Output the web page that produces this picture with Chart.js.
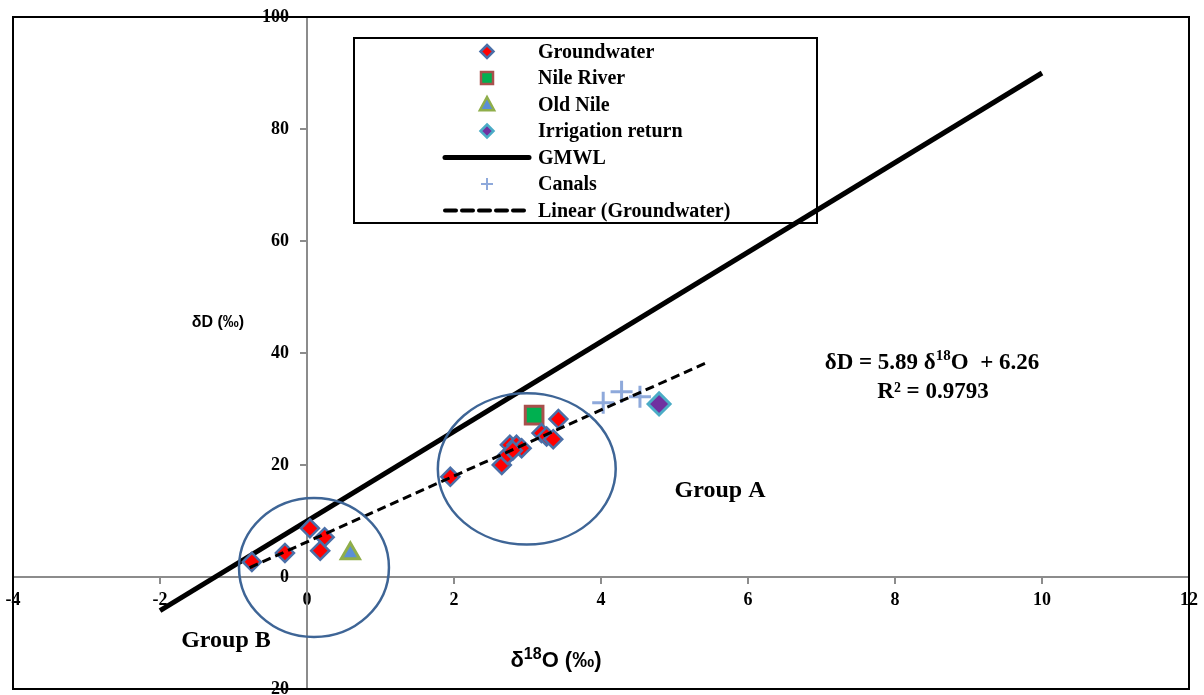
<!DOCTYPE html>
<html><head><meta charset="utf-8">
<script src="https://cdn.jsdelivr.net/npm/chart.js@4"></script>
<style>html,body{margin:0;padding:0;background:#fff}#wrap{width:1204px;height:695px;position:relative}</style>
</head><body><div id="wrap"><canvas id="c"></canvas></div>
<script>
// ---- data ----
const groundwaterX = [-0.75, -0.30, 0.04, 0.24, 0.18, 1.95, 2.65, 2.73, 2.76, 2.85, 2.92, 2.80, 3.19, 3.26, 3.35, 3.42];
const groundwaterY = [2.7, 4.3, 8.7, 7.1, 4.7, 17.9, 20.0, 21.8, 23.6, 23.6, 23.0, 22.6, 25.7, 25.1, 24.6, 28.2];
const nileRiverX = [3.09];
const nileRiverY = [28.9];
const oldNileX = [0.59];
const oldNileY = [4.2];
const irrigationX = [4.79];
const irrigationY = [30.9];
const canalsX = [4.03, 4.28, 4.53];
const canalsY = [31.1, 33.1, 32.2];
const gmwlX = [-2, 10];
const gmwlY = [-6, 90];
const trendX = [-0.78, 5.43];
const trendY = [1.67, 38.24];
const xTicks = [-4, -2, 0, 2, 4, 6, 8, 10, 12];
const yTicks = [-20, 0, 20, 40, 60, 80, 100];
// group ellipses in data units: [centerX, centerY, radiusX, radiusY]
const groupA = [2.99, 19.3, 1.21, 13.5];
const groupB = [0.095, 1.7, 1.02, 12.4];

const pts = (xs, ys) => xs.map((x, i) => ({x, y: ys[i]}));
const SERIF = "'Liberation Serif','Times New Roman',serif";
const SANS = "'Liberation Sans',Arial,sans-serif";

const datasets = [
  {label: 'Groundwater', data: pts(groundwaterX, groundwaterY), pointStyle: 'rectRot', pointRadius: 9,
   backgroundColor: '#ff0000', borderColor: '#4a6fa8', borderWidth: 2.5, showLine: false, order: 2},
  {label: 'Nile River', data: pts(nileRiverX, nileRiverY), pointStyle: 'rect', pointRadius: 12.5,
   backgroundColor: '#00b050', borderColor: '#a9504c', borderWidth: 3, showLine: false, order: 3},
  {label: 'Old Nile', data: pts(oldNileX, oldNileY), pointStyle: 'triangle', pointRadius: 10.5,
   backgroundColor: '#5b8fd6', borderColor: '#8fae4a', borderWidth: 3, showLine: false, order: 3},
  {label: 'Irrigation return', data: pts(irrigationX, irrigationY), pointStyle: 'rectRot', pointRadius: 11,
   backgroundColor: '#7030a0', borderColor: '#4bacc6', borderWidth: 3, showLine: false, order: 3},
  {label: 'GMWL', data: pts(gmwlX, gmwlY), showLine: true, borderColor: '#000', borderWidth: 5,
   pointRadius: 0, fill: false, order: 10},
  {label: 'Canals', data: pts(canalsX, canalsY), pointStyle: 'cross', pointRadius: 11,
   backgroundColor: '#8ea9db', borderColor: '#8ea9db', borderWidth: 3, showLine: false, order: 3},
  {label: 'Linear (Groundwater)', data: pts(trendX, trendY), showLine: true, borderColor: '#000', borderWidth: 3,
   borderDash: [9, 5], pointRadius: 0, fill: false, order: 0}
];

function marker(ctx, style, x, y, r, fill, stroke, lw) {
  ctx.save();
  ctx.fillStyle = fill; ctx.strokeStyle = stroke; ctx.lineWidth = lw;
  ctx.beginPath();
  if (style === 'rectRot') {
    ctx.moveTo(x, y - r); ctx.lineTo(x + r, y); ctx.lineTo(x, y + r); ctx.lineTo(x - r, y); ctx.closePath();
    ctx.fill(); ctx.stroke();
  } else if (style === 'rect') {
    ctx.rect(x - r, y - r, 2 * r, 2 * r); ctx.fill(); ctx.stroke();
  } else if (style === 'triangle') {
    ctx.moveTo(x, y - r); ctx.lineTo(x + r * 0.95, y + r * 0.75); ctx.lineTo(x - r * 0.95, y + r * 0.75); ctx.closePath();
    ctx.fill(); ctx.stroke();
  } else if (style === 'cross') {
    ctx.moveTo(x - r, y); ctx.lineTo(x + r, y); ctx.moveTo(x, y - r); ctx.lineTo(x, y + r); ctx.stroke();
  }
  ctx.restore();
}

function richText(ctx, parts, cx, cy, size, fam, supScale) {
  ctx.save();
  ctx.textBaseline = 'middle';
  ctx.textAlign = 'left';
  const ss = supScale || 0.65;
  const fontFor = sup => 'bold ' + (sup ? Math.round(size * ss) : size) + 'px ' + fam;
  let total = 0;
  const widths = parts.map(([t, sup]) => {
    ctx.font = fontFor(sup);
    const w = ctx.measureText(t).width; total += w; return w;
  });
  let x = cx - total / 2;
  parts.forEach(([t, sup], i) => {
    ctx.font = fontFor(sup);
    ctx.fillText(t, x, sup ? cy - size * 0.3 : cy);
    x += widths[i];
  });
  ctx.restore();
}

const decor = {
  id: 'decor',
  beforeDatasetsDraw(chart) {
    const ctx = chart.ctx;
    ctx.save();
    ctx.fillStyle = '#fff';
    ctx.fillRect(354, 38, 463, 185);
    ctx.strokeStyle = '#000'; ctx.lineWidth = 2;
    ctx.strokeRect(354, 38, 463, 185);
    const rows = [51.5, 78, 104.5, 131, 157.5, 184, 210.5];
    chart.data.datasets.forEach((ds, i) => {
      const y = rows[i];
      if (ds.showLine) {
        ctx.save();
        ctx.strokeStyle = ds.borderColor; ctx.lineWidth = ds.borderWidth === 5 ? 5 : 4;
        ctx.lineCap = 'round';
        ctx.setLineDash(ds.borderDash ? [11, 6] : []);
        ctx.beginPath(); ctx.moveTo(445, y); ctx.lineTo(529, y); ctx.stroke();
        ctx.restore();
      } else {
        const r = ds.pointStyle === 'rect' ? 6 : ds.pointStyle === 'cross' ? 6 : ds.pointStyle === 'triangle' ? 7.5 : 6.5;
        marker(ctx, ds.pointStyle, 487, y, r, ds.backgroundColor, ds.borderColor, ds.pointStyle === 'cross' ? 2 : 2.5);
      }
      ctx.fillStyle = '#000';
      ctx.font = 'bold 20px ' + SERIF;
      ctx.textBaseline = 'middle'; ctx.textAlign = 'left';
      ctx.fillText(ds.label, 538, y + 1);
    });
    ctx.restore();
  },
  afterDatasetsDraw(chart) {
    const ctx = chart.ctx;
    const xs = chart.scales.x, ys = chart.scales.y;
    ctx.save();
    ctx.strokeStyle = '#3e6596'; ctx.lineWidth = 2.5;
    [groupA, groupB].forEach(([cx, cy, rx, ry]) => {
      const px = xs.getPixelForValue(cx), py = ys.getPixelForValue(cy);
      const prx = xs.getPixelForValue(cx + rx) - px, pry = py - ys.getPixelForValue(cy + ry);
      ctx.beginPath(); ctx.ellipse(px, py, prx, pry, 0, 0, Math.PI * 2); ctx.stroke();
    });
    ctx.fillStyle = '#000';
    ctx.textAlign = 'center'; ctx.textBaseline = 'middle';
    ctx.font = 'bold 24px ' + SERIF;
    ctx.fillText('Group A', 720, 491);
    ctx.fillText('Group B', 226, 641);
    richText(ctx, [['δD = 5.89 δ', false], ['18', true], ['O  + 6.26', false]], 932, 363, 23, SERIF);
    richText(ctx, [['R² = 0.9793', false]], 933, 392, 23, SERIF);
    richText(ctx, [['δD (‰)', false]], 218, 323, 16, SANS);
    richText(ctx, [['δ', false], ['18', true], ['O (‰)', false]], 556, 661, 22, SANS, 0.72);
    const a = chart.chartArea;
    ctx.strokeStyle = '#000'; ctx.lineWidth = 2;
    ctx.strokeRect(a.left, a.top, a.right - a.left, a.bottom - a.top);
    ctx.restore();
  }
};

const noPad = s => { s.paddingTop = 0; s.paddingBottom = 0; s.paddingLeft = 0; s.paddingRight = 0; };
const tickFont = {family: SERIF, size: 18, weight: 'bold'};
new Chart(document.getElementById('c'), {
  type: 'scatter',
  data: {datasets},
  options: {
    responsive: true, maintainAspectRatio: false, animation: false,
    layout: {autoPadding: false, padding: {left: 13, right: 15, top: 17, bottom: 6}},
    plugins: {legend: {display: false}, tooltip: {enabled: false}},
    scales: {
      x: {type: 'linear', min: -4, max: 12, position: {y: 0},
          afterBuildTicks: s => { s.ticks = xTicks.map(v => ({value: v})); },
          afterFit: noPad,
          ticks: {font: tickFont, color: '#000', padding: 7, maxRotation: 0, autoSkip: false},
          grid: {drawOnChartArea: false, drawTicks: true, tickLength: 6, color: '#8c8c8c', lineWidth: 2},
          border: {color: '#8c8c8c', width: 2}},
      y: {type: 'linear', min: -20, max: 100, position: {x: 0},
          afterBuildTicks: s => { s.ticks = yTicks.map(v => ({value: v})); },
          afterFit: noPad,
          ticks: {font: tickFont, color: '#000', autoSkip: false, callback: v => v + '\u2003'},
          grid: {drawOnChartArea: false, drawTicks: true, tickLength: 6, color: '#8c8c8c', lineWidth: 2},
          border: {color: '#8c8c8c', width: 2}}
    }
  },
  plugins: [decor]
});
</script>
</body></html>
